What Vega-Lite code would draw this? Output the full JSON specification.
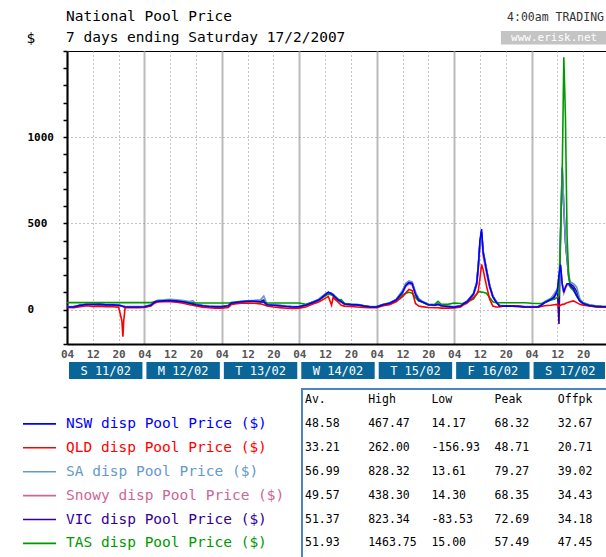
{
  "$schema": "https://vega.github.io/schema/vega-lite/v6.json",
  "background": "white",
  "padding": {"left": 22, "top": 8, "right": 0, "bottom": 0},
  "spacing": 8,
  "config": {
    "font": "DejaVu Sans Mono",
    "view": {"stroke": null}
  },
  "datasets": {
    "prices": [
      {"t": "2007-02-11T04:00", "N": 15, "Q": 12, "S": 18, "W": 15, "V": 16, "T": 40},
      {"t": "2007-02-11T06:00", "N": 15, "Q": 10, "S": 18, "W": 15, "V": 16, "T": 40},
      {"t": "2007-02-11T08:00", "N": 24, "Q": 16, "S": 26, "W": 23, "V": 25, "T": 40},
      {"t": "2007-02-11T10:00", "N": 29, "Q": 22, "S": 31, "W": 28, "V": 30, "T": 40},
      {"t": "2007-02-11T12:00", "N": 29, "Q": 18, "S": 31, "W": 28, "V": 30, "T": 40},
      {"t": "2007-02-11T14:00", "N": 30, "Q": 20, "S": 32, "W": 29, "V": 31, "T": 40},
      {"t": "2007-02-11T16:00", "N": 27, "Q": 16, "S": 29, "W": 26, "V": 28, "T": 40},
      {"t": "2007-02-11T18:00", "N": 27, "Q": 16, "S": 29, "W": 26, "V": 28, "T": 40},
      {"t": "2007-02-11T20:00", "N": 25, "Q": 14, "S": 27, "W": 24, "V": 26, "T": 40},
      {"t": "2007-02-11T21:00", "N": 20, "Q": -65, "S": 22, "W": 19, "V": 21, "T": 40},
      {"t": "2007-02-11T21:20", "N": 18, "Q": -157, "S": 20, "W": 17, "V": 19, "T": 40},
      {"t": "2007-02-11T21:35", "N": 17, "Q": -65, "S": 19, "W": 16, "V": 18, "T": 40},
      {"t": "2007-02-11T22:00", "N": 16, "Q": 10, "S": 18, "W": 15, "V": 17, "T": 40},
      {"t": "2007-02-12T00:00", "N": 15, "Q": 10, "S": 17, "W": 15, "V": 16, "T": 40},
      {"t": "2007-02-12T02:00", "N": 15, "Q": 10, "S": 17, "W": 15, "V": 16, "T": 40},
      {"t": "2007-02-12T04:00", "N": 16, "Q": 12, "S": 18, "W": 15, "V": 17, "T": 40},
      {"t": "2007-02-12T06:00", "N": 25, "Q": 20, "S": 28, "W": 24, "V": 26, "T": 40},
      {"t": "2007-02-12T07:00", "N": 42, "Q": 35, "S": 45, "W": 40, "V": 43, "T": 44},
      {"t": "2007-02-12T08:00", "N": 48, "Q": 44, "S": 54, "W": 46, "V": 50, "T": 48},
      {"t": "2007-02-12T10:00", "N": 50, "Q": 47, "S": 56, "W": 48, "V": 52, "T": 50},
      {"t": "2007-02-12T12:00", "N": 52, "Q": 46, "S": 60, "W": 50, "V": 55, "T": 52},
      {"t": "2007-02-12T14:00", "N": 49, "Q": 42, "S": 56, "W": 47, "V": 52, "T": 48},
      {"t": "2007-02-12T16:00", "N": 45, "Q": 36, "S": 52, "W": 43, "V": 48, "T": 45},
      {"t": "2007-02-12T18:00", "N": 36, "Q": 28, "S": 46, "W": 35, "V": 40, "T": 40},
      {"t": "2007-02-12T19:00", "N": 32, "Q": 25, "S": 52, "W": 31, "V": 40, "T": 38},
      {"t": "2007-02-12T20:00", "N": 28, "Q": 20, "S": 32, "W": 27, "V": 30, "T": 38},
      {"t": "2007-02-12T22:00", "N": 22, "Q": 14, "S": 25, "W": 21, "V": 23, "T": 38},
      {"t": "2007-02-13T00:00", "N": 18, "Q": 10, "S": 21, "W": 17, "V": 19, "T": 38},
      {"t": "2007-02-13T02:00", "N": 16, "Q": 8, "S": 19, "W": 15, "V": 17, "T": 38},
      {"t": "2007-02-13T04:00", "N": 16, "Q": 8, "S": 18, "W": 15, "V": 17, "T": 38},
      {"t": "2007-02-13T06:00", "N": 22, "Q": 12, "S": 25, "W": 21, "V": 23, "T": 38},
      {"t": "2007-02-13T07:00", "N": 38, "Q": 30, "S": 41, "W": 36, "V": 39, "T": 40},
      {"t": "2007-02-13T08:00", "N": 40, "Q": 33, "S": 43, "W": 38, "V": 41, "T": 42},
      {"t": "2007-02-13T10:00", "N": 45, "Q": 36, "S": 48, "W": 43, "V": 46, "T": 45},
      {"t": "2007-02-13T12:00", "N": 48, "Q": 38, "S": 51, "W": 46, "V": 49, "T": 48},
      {"t": "2007-02-13T14:00", "N": 48, "Q": 36, "S": 53, "W": 46, "V": 50, "T": 48},
      {"t": "2007-02-13T16:00", "N": 45, "Q": 33, "S": 56, "W": 43, "V": 48, "T": 45},
      {"t": "2007-02-13T17:00", "N": 44, "Q": 28, "S": 78, "W": 42, "V": 55, "T": 44},
      {"t": "2007-02-13T18:00", "N": 28, "Q": 20, "S": 31, "W": 27, "V": 29, "T": 38},
      {"t": "2007-02-13T20:00", "N": 25, "Q": 15, "S": 28, "W": 24, "V": 26, "T": 38},
      {"t": "2007-02-13T22:00", "N": 22, "Q": 11, "S": 25, "W": 21, "V": 23, "T": 38},
      {"t": "2007-02-14T00:00", "N": 18, "Q": 7, "S": 21, "W": 17, "V": 19, "T": 38},
      {"t": "2007-02-14T02:00", "N": 15, "Q": 6, "S": 18, "W": 15, "V": 16, "T": 38},
      {"t": "2007-02-14T04:00", "N": 17, "Q": 8, "S": 19, "W": 16, "V": 18, "T": 38},
      {"t": "2007-02-14T06:00", "N": 25, "Q": 15, "S": 28, "W": 24, "V": 26, "T": 30},
      {"t": "2007-02-14T08:00", "N": 40, "Q": 30, "S": 44, "W": 38, "V": 42, "T": 40},
      {"t": "2007-02-14T10:00", "N": 55, "Q": 44, "S": 60, "W": 52, "V": 57, "T": 55},
      {"t": "2007-02-14T12:00", "N": 85, "Q": 65, "S": 90, "W": 80, "V": 87, "T": 80},
      {"t": "2007-02-14T13:00", "N": 100, "Q": 76, "S": 98, "W": 94, "V": 99, "T": 90},
      {"t": "2007-02-14T14:00", "N": 92, "Q": 25, "S": 94, "W": 87, "V": 93, "T": 85},
      {"t": "2007-02-14T14:30", "N": 85, "Q": 70, "S": 88, "W": 80, "V": 86, "T": 80},
      {"t": "2007-02-14T15:00", "N": 75, "Q": 60, "S": 80, "W": 71, "V": 77, "T": 70},
      {"t": "2007-02-14T16:00", "N": 58, "Q": 44, "S": 62, "W": 55, "V": 60, "T": 55},
      {"t": "2007-02-14T17:00", "N": 45, "Q": 25, "S": 50, "W": 43, "V": 47, "T": 58},
      {"t": "2007-02-14T18:00", "N": 32, "Q": 20, "S": 36, "W": 30, "V": 34, "T": 35},
      {"t": "2007-02-14T20:00", "N": 28, "Q": 18, "S": 31, "W": 27, "V": 29, "T": 30},
      {"t": "2007-02-14T22:00", "N": 27, "Q": 15, "S": 30, "W": 26, "V": 28, "T": 28},
      {"t": "2007-02-15T00:00", "N": 20, "Q": 12, "S": 23, "W": 19, "V": 21, "T": 22},
      {"t": "2007-02-15T02:00", "N": 15, "Q": 10, "S": 17, "W": 14.3, "V": 16, "T": 16},
      {"t": "2007-02-15T04:00", "N": 15, "Q": 10, "S": 17, "W": 15, "V": 16, "T": 17},
      {"t": "2007-02-15T06:00", "N": 28, "Q": 22, "S": 31, "W": 27, "V": 29, "T": 28},
      {"t": "2007-02-15T08:00", "N": 36, "Q": 28, "S": 39, "W": 34, "V": 37, "T": 35},
      {"t": "2007-02-15T10:00", "N": 55, "Q": 45, "S": 59, "W": 52, "V": 57, "T": 50},
      {"t": "2007-02-15T12:00", "N": 100, "Q": 75, "S": 110, "W": 95, "V": 105, "T": 85},
      {"t": "2007-02-15T13:00", "N": 140, "Q": 95, "S": 152, "W": 133, "V": 146, "T": 95},
      {"t": "2007-02-15T14:00", "N": 156, "Q": 116, "S": 166, "W": 148, "V": 160, "T": 100},
      {"t": "2007-02-15T15:00", "N": 150, "Q": 110, "S": 160, "W": 142, "V": 155, "T": 95},
      {"t": "2007-02-15T16:00", "N": 90, "Q": 35, "S": 102, "W": 86, "V": 96, "T": 70},
      {"t": "2007-02-15T17:00", "N": 55, "Q": 20, "S": 65, "W": 52, "V": 60, "T": 50},
      {"t": "2007-02-15T18:00", "N": 45, "Q": 17, "S": 50, "W": 43, "V": 47, "T": 45},
      {"t": "2007-02-15T20:00", "N": 28, "Q": 12, "S": 31, "W": 27, "V": 29, "T": 28},
      {"t": "2007-02-15T22:00", "N": 25, "Q": 10, "S": 28, "W": 24, "V": 26, "T": 30},
      {"t": "2007-02-15T23:00", "N": 30, "Q": 10, "S": 32, "W": 28, "V": 31, "T": 48},
      {"t": "2007-02-16T00:00", "N": 22, "Q": 8, "S": 24, "W": 21, "V": 23, "T": 30},
      {"t": "2007-02-16T02:00", "N": 18, "Q": 8, "S": 20, "W": 17, "V": 19, "T": 30},
      {"t": "2007-02-16T04:00", "N": 14.2, "Q": 9, "S": 16, "W": 14.3, "V": 15, "T": 38},
      {"t": "2007-02-16T06:00", "N": 20, "Q": 15, "S": 22, "W": 19, "V": 21, "T": 35},
      {"t": "2007-02-16T07:00", "N": 35, "Q": 28, "S": 38, "W": 33, "V": 36, "T": 35},
      {"t": "2007-02-16T08:00", "N": 45, "Q": 38, "S": 50, "W": 43, "V": 47, "T": 45},
      {"t": "2007-02-16T10:00", "N": 90, "Q": 70, "S": 95, "W": 85, "V": 92, "T": 60},
      {"t": "2007-02-16T11:00", "N": 150, "Q": 90, "S": 160, "W": 142, "V": 155, "T": 90},
      {"t": "2007-02-16T11:30", "N": 250, "Q": 110, "S": 260, "W": 235, "V": 255, "T": 100},
      {"t": "2007-02-16T12:00", "N": 400, "Q": 180, "S": 380, "W": 375, "V": 390, "T": 105},
      {"t": "2007-02-16T12:30", "N": 467, "Q": 262, "S": 440, "W": 438, "V": 450, "T": 100},
      {"t": "2007-02-16T13:00", "N": 330, "Q": 230, "S": 340, "W": 310, "V": 335, "T": 100},
      {"t": "2007-02-16T14:00", "N": 230, "Q": 140, "S": 240, "W": 215, "V": 235, "T": 95},
      {"t": "2007-02-16T15:00", "N": 135, "Q": 60, "S": 145, "W": 127, "V": 140, "T": 70},
      {"t": "2007-02-16T16:00", "N": 75, "Q": 20, "S": 80, "W": 70, "V": 77, "T": 45},
      {"t": "2007-02-16T17:00", "N": 45, "Q": 15, "S": 48, "W": 42, "V": 46, "T": 39},
      {"t": "2007-02-16T18:00", "N": 22, "Q": 15, "S": 25, "W": 21, "V": 23, "T": 39},
      {"t": "2007-02-16T20:00", "N": 20, "Q": 22, "S": 22, "W": 19, "V": 21, "T": 39},
      {"t": "2007-02-16T22:00", "N": 20, "Q": 22, "S": 22, "W": 19, "V": 21, "T": 39},
      {"t": "2007-02-17T00:00", "N": 18, "Q": 20, "S": 20, "W": 17, "V": 19, "T": 39},
      {"t": "2007-02-17T02:00", "N": 15, "Q": 15, "S": 18, "W": 15, "V": 16, "T": 39},
      {"t": "2007-02-17T04:00", "N": 15, "Q": 13, "S": 17, "W": 15, "V": 16, "T": 36},
      {"t": "2007-02-17T06:00", "N": 15, "Q": 14, "S": 18, "W": 15, "V": 16, "T": 35},
      {"t": "2007-02-17T07:00", "N": 25, "Q": 18, "S": 28, "W": 24, "V": 26, "T": 35},
      {"t": "2007-02-17T08:00", "N": 40, "Q": 22, "S": 45, "W": 38, "V": 42, "T": 40},
      {"t": "2007-02-17T10:00", "N": 60, "Q": 25, "S": 65, "W": 57, "V": 62, "T": 55},
      {"t": "2007-02-17T11:00", "N": 70, "Q": 28, "S": 90, "W": 66, "V": 80, "T": 60},
      {"t": "2007-02-17T12:00", "N": 110, "Q": 30, "S": 120, "W": 104, "V": 115, "T": 70},
      {"t": "2007-02-17T12:30", "N": 200, "Q": 20, "S": 150, "W": 190, "V": -83.5, "T": 80},
      {"t": "2007-02-17T13:00", "N": 260, "Q": 25, "S": 450, "W": 245, "V": 440, "T": 460},
      {"t": "2007-02-17T13:30", "N": 150, "Q": 30, "S": 828, "W": 142, "V": 823, "T": 780},
      {"t": "2007-02-17T14:00", "N": 100, "Q": 30, "S": 600, "W": 95, "V": 590, "T": 1464},
      {"t": "2007-02-17T14:30", "N": 130, "Q": 35, "S": 400, "W": 123, "V": 390, "T": 1120},
      {"t": "2007-02-17T15:00", "N": 150, "Q": 40, "S": 300, "W": 142, "V": 290, "T": 430},
      {"t": "2007-02-17T15:30", "N": 150, "Q": 42, "S": 200, "W": 142, "V": 190, "T": 200},
      {"t": "2007-02-17T16:00", "N": 140, "Q": 45, "S": 160, "W": 133, "V": 150, "T": 130},
      {"t": "2007-02-17T17:00", "N": 120, "Q": 50, "S": 150, "W": 114, "V": 135, "T": 110},
      {"t": "2007-02-17T18:00", "N": 80, "Q": 40, "S": 130, "W": 76, "V": 105, "T": 80},
      {"t": "2007-02-17T19:00", "N": 50, "Q": 30, "S": 60, "W": 47, "V": 55, "T": 50},
      {"t": "2007-02-17T20:00", "N": 35, "Q": 25, "S": 40, "W": 33, "V": 38, "T": 35},
      {"t": "2007-02-17T22:00", "N": 22, "Q": 20, "S": 28, "W": 21, "V": 25, "T": 25},
      {"t": "2007-02-18T00:00", "N": 18, "Q": 15, "S": 22, "W": 17, "V": 20, "T": 20},
      {"t": "2007-02-18T02:00", "N": 16, "Q": 14, "S": 18, "W": 15, "V": 17, "T": 18},
      {"t": "2007-02-18T03:20", "N": 15, "Q": 14, "S": 17, "W": 15, "V": 16, "T": 17}
    ],
    "days": [
      {"d": "S 11/02", "s": "2007-02-11T04:00", "e": "2007-02-12T04:00", "m": "2007-02-11T16:00"},
      {"d": "M 12/02", "s": "2007-02-12T04:00", "e": "2007-02-13T04:00", "m": "2007-02-12T16:00"},
      {"d": "T 13/02", "s": "2007-02-13T04:00", "e": "2007-02-14T04:00", "m": "2007-02-13T16:00"},
      {"d": "W 14/02", "s": "2007-02-14T04:00", "e": "2007-02-15T04:00", "m": "2007-02-14T16:00"},
      {"d": "T 15/02", "s": "2007-02-15T04:00", "e": "2007-02-16T04:00", "m": "2007-02-15T16:00"},
      {"d": "F 16/02", "s": "2007-02-16T04:00", "e": "2007-02-17T04:00", "m": "2007-02-16T16:00"},
      {"d": "S 17/02", "s": "2007-02-17T04:00", "e": "2007-02-18T04:00", "m": "2007-02-17T16:00"}
    ],
    "legend": [
      {"key": "N", "label": "NSW disp Pool Price ($)"},
      {"key": "Q", "label": "QLD disp Pool Price ($)"},
      {"key": "S", "label": "SA disp Pool Price ($)"},
      {"key": "W", "label": "Snowy disp Pool Price ($)"},
      {"key": "V", "label": "VIC disp Pool Price ($)"},
      {"key": "T", "label": "TAS disp Pool Price ($)"}
    ],
    "table": [
      {"row": "H", "Av": "Av.", "High": "High", "Low": "Low", "Peak": "Peak", "Offpk": "Offpk"},
      {"row": "N", "Av": "48.58", "High": "467.47", "Low": "14.17", "Peak": "68.32", "Offpk": "32.67"},
      {"row": "Q", "Av": "33.21", "High": "262.00", "Low": "-156.93", "Peak": "48.71", "Offpk": "20.71"},
      {"row": "S", "Av": "56.99", "High": "828.32", "Low": "13.61", "Peak": "79.27", "Offpk": "39.02"},
      {"row": "W", "Av": "49.57", "High": "438.30", "Low": "14.30", "Peak": "68.35", "Offpk": "34.43"},
      {"row": "V", "Av": "51.37", "High": "823.34", "Low": "-83.53", "Peak": "72.69", "Offpk": "34.18"},
      {"row": "T", "Av": "51.93", "High": "1463.75", "Low": "15.00", "Peak": "57.49", "Offpk": "47.45"}
    ]
  },
  "vconcat": [
    {
      "width": 540,
      "height": 293,
      "view": {"stroke": "#000000", "strokeWidth": 1},
      "layer": [
        {
          "data": {"name": "prices"},
          "transform": [{"fold": ["V", "W", "S", "T", "Q", "N"], "as": ["key", "price"]}],
          "mark": {"type": "line", "strokeWidth": 1.6, "invalid": "filter"},
          "encoding": {
            "x": {
              "field": "t", "type": "temporal",
              "scale": {
                "domain": [
                  {"year": 2007, "month": 2, "date": 11, "hours": 4},
                  {"year": 2007, "month": 2, "date": 18, "hours": 3, "minutes": 23}
                ],
                "clamp": true
              },
              "axis": {
                "title": null,
                "tickCount": 100,
                "values": [
                  {"year": 2007, "month": 2, "date": 11, "hours": 4}, {"year": 2007, "month": 2, "date": 11, "hours": 12}, {"year": 2007, "month": 2, "date": 11, "hours": 20},
                  {"year": 2007, "month": 2, "date": 12, "hours": 4}, {"year": 2007, "month": 2, "date": 12, "hours": 12}, {"year": 2007, "month": 2, "date": 12, "hours": 20},
                  {"year": 2007, "month": 2, "date": 13, "hours": 4}, {"year": 2007, "month": 2, "date": 13, "hours": 12}, {"year": 2007, "month": 2, "date": 13, "hours": 20},
                  {"year": 2007, "month": 2, "date": 14, "hours": 4}, {"year": 2007, "month": 2, "date": 14, "hours": 12}, {"year": 2007, "month": 2, "date": 14, "hours": 20},
                  {"year": 2007, "month": 2, "date": 15, "hours": 4}, {"year": 2007, "month": 2, "date": 15, "hours": 12}, {"year": 2007, "month": 2, "date": 15, "hours": 20},
                  {"year": 2007, "month": 2, "date": 16, "hours": 4}, {"year": 2007, "month": 2, "date": 16, "hours": 12}, {"year": 2007, "month": 2, "date": 16, "hours": 20},
                  {"year": 2007, "month": 2, "date": 17, "hours": 4}, {"year": 2007, "month": 2, "date": 17, "hours": 12}, {"year": 2007, "month": 2, "date": 17, "hours": 20}
                ],
                "format": "%H",
                "formatType": "time",
                "labelFont": "DejaVu Sans Mono",
                "labelFontSize": 11,
                "labelFontWeight": "bold",
                "labelColor": "#555555",
                "labelPadding": 4,
                "labelOverlap": false,
                "labelFlush": false,
                "ticks": false,
                "domainColor": "#000000",
                "domainWidth": 2,
                "grid": true,
                "gridColor": {"condition": {"test": "hours(datum.value) === 4", "value": "#bbbbbb"}, "value": "#888888"},
                "gridDash": {"condition": {"test": "hours(datum.value) === 4", "value": []}, "value": [1, 3]},
                "gridWidth": {"condition": {"test": "hours(datum.value) === 4", "value": 2}, "value": 1}
              }
            },
            "y": {
              "field": "price", "type": "quantitative",
              "scale": {"domain": [-200, 1500], "nice": false, "zero": false},
              "axis": {
                "title": "$",
                "titleAngle": 0,
                "titleX": -41,
                "titleY": -13,
                "titleAlign": "left",
                "titleBaseline": "middle",
                "titleFont": "DejaVu Sans Mono",
                "titleFontSize": 14.5,
                "titleFontWeight": "normal",
                "titleColor": "#000000",
                "tickCount": 100,
                "values": [-200, -100, 0, 100, 200, 300, 400, 500, 600, 700, 800, 900, 1000, 1100, 1200, 1300, 1400, 1500],
                "format": "d",
                "labelExpr": "(datum.value % 500 === 0 && datum.value >= 0 && datum.value < 1500) ? datum.label : ''",
                "labelAlign": "left",
                "labelBaseline": "middle",
                "labelPadding": 36,
                "labelFont": "DejaVu Sans Mono",
                "labelFontSize": 11,
                "labelFontWeight": "bold",
                "labelColor": "#000000",
                "labelOverlap": false,
                "labelFlush": false,
                "tickSize": 4,
                "tickColor": "#000000",
                "tickWidth": 1.5,
                "domainColor": "#000000",
                "domainWidth": 2,
                "grid": true,
                "gridColor": "#888888",
                "gridDash": [1, 3],
                "gridOpacity": {"condition": {"test": "datum.value % 500 === 0 && datum.value < 1500", "value": 1}, "value": 0}
              }
            },
            "color": {
              "field": "key", "type": "nominal",
              "scale": {"domain": ["N", "Q", "S", "W", "V", "T"], "range": ["#0000ff", "#ff0000", "#6699cc", "#cc6699", "#330099", "#009900"]},
              "legend": null
            }
          }
        },
        {
          "data": {"name": "days"},
          "mark": {"type": "rect", "color": "#0a6699", "xOffset": 2, "x2Offset": -2},
          "encoding": {
            "x": {"field": "s", "type": "temporal"},
            "x2": {"field": "e"},
            "y": {"datum": -305, "type": "quantitative"},
            "y2": {"datum": -403}
          }
        },
        {
          "data": {"name": "days"},
          "mark": {"type": "text", "color": "#ffffff", "font": "DejaVu Sans Mono", "fontSize": 12, "baseline": "middle", "align": "center"},
          "encoding": {
            "x": {"field": "m", "type": "temporal"},
            "y": {"datum": -354, "type": "quantitative"},
            "text": {"field": "d"}
          }
        },
        {
          "data": {"values": [{}]},
          "mark": {"type": "text", "text": "National Pool Price", "align": "left", "baseline": "middle", "font": "DejaVu Sans Mono", "fontSize": 14.5, "color": "#000000", "dx": -1, "dy": -34},
          "encoding": {
            "x": {"datum": {"year": 2007, "month": 2, "date": 11, "hours": 4}, "type": "temporal"},
            "y": {"datum": 1500, "type": "quantitative"}
          }
        },
        {
          "data": {"values": [{}]},
          "mark": {"type": "text", "text": "7 days ending Saturday 17/2/2007", "align": "left", "baseline": "middle", "font": "DejaVu Sans Mono", "fontSize": 14.5, "color": "#000000", "dx": -1, "dy": -13},
          "encoding": {
            "x": {"datum": {"year": 2007, "month": 2, "date": 11, "hours": 4}, "type": "temporal"},
            "y": {"datum": 1500, "type": "quantitative"}
          }
        },
        {
          "data": {"values": [{}]},
          "mark": {"type": "text", "text": "4:00am TRADING", "align": "right", "baseline": "middle", "font": "DejaVu Sans Mono", "fontSize": 11.5, "color": "#333333", "dx": -3, "dy": -33},
          "encoding": {
            "x": {"datum": {"year": 2007, "month": 2, "date": 18, "hours": 3, "minutes": 23}, "type": "temporal"},
            "y": {"datum": 1500, "type": "quantitative"}
          }
        },
        {
          "data": {"values": [{}]},
          "mark": {"type": "rect", "color": "#c4c4c4"},
          "encoding": {
            "x": {"datum": {"year": 2007, "month": 2, "date": 16, "hours": 18, "minutes": 30}, "type": "temporal"},
            "x2": {"datum": {"year": 2007, "month": 2, "date": 18, "hours": 3, "minutes": 23}},
            "y": {"datum": 1538, "type": "quantitative"},
            "y2": {"datum": 1616}
          }
        },
        {
          "data": {"values": [{}]},
          "mark": {"type": "text", "text": "www.erisk.net", "align": "center", "baseline": "middle", "font": "DejaVu Sans Mono", "fontSize": 11, "color": "#ffffff"},
          "encoding": {
            "x": {"datum": {"year": 2007, "month": 2, "date": 17, "hours": 11}, "type": "temporal"},
            "y": {"datum": 1577, "type": "quantitative"}
          }
        }
      ]
    },
    {
      "spacing": 0,
      "hconcat": [
        {
          "width": 234,
          "height": 170,
          "data": {"name": "legend"},
          "layer": [
            {
              "mark": {"type": "rule", "strokeWidth": 1.6},
              "encoding": {
                "y": {"field": "key", "type": "ordinal", "scale": {"type": "point", "domain": ["H", "N", "Q", "S", "W", "V", "T"], "padding": 0.556, "align": 0.4135}, "axis": null},
                "x": {"datum": -0.188, "type": "quantitative", "scale": {"domain": [0, 1]}, "axis": null},
                "x2": {"datum": -0.047},
                "color": {
                  "field": "key", "type": "nominal",
                  "scale": {"domain": ["N", "Q", "S", "W", "V", "T"], "range": ["#0000ff", "#ff0000", "#6699cc", "#cc6699", "#330099", "#009900"]},
                  "legend": null
                }
              }
            },
            {
              "mark": {"type": "text", "align": "left", "baseline": "middle", "font": "DejaVu Sans Mono", "fontSize": 14.5},
              "encoding": {
                "y": {"field": "key", "type": "ordinal", "scale": {"type": "point", "domain": ["H", "N", "Q", "S", "W", "V", "T"], "padding": 0.556, "align": 0.4135}, "axis": null},
                "x": {"datum": -0.004, "type": "quantitative", "scale": {"domain": [0, 1]}, "axis": null},
                "text": {"field": "label"},
                "color": {
                  "field": "key", "type": "nominal",
                  "scale": {"domain": ["N", "Q", "S", "W", "V", "T"], "range": ["#0000ff", "#ff0000", "#6699cc", "#cc6699", "#330099", "#009900"]},
                  "legend": null
                }
              }
            }
          ]
        },
        {
          "width": 307,
          "height": 170,
          "view": {"stroke": "#4a86c0", "strokeWidth": 2},
          "data": {"name": "table"},
          "transform": [{"fold": ["Av", "High", "Low", "Peak", "Offpk"], "as": ["col", "val"]}],
          "mark": {"type": "text", "align": "left", "baseline": "middle", "font": "DejaVu Sans Mono", "fontSize": 11.5, "color": "#000000"},
          "encoding": {
            "x": {"field": "col", "type": "ordinal", "scale": {"type": "point", "domain": ["Av", "High", "Low", "Peak", "Offpk"], "padding": 0.4286, "align": 0.055}, "axis": null},
            "y": {"field": "row", "type": "ordinal", "scale": {"type": "point", "domain": ["H", "N", "Q", "S", "W", "V", "T"], "padding": 0.556, "align": 0.4135}, "axis": null},
            "text": {"field": "val"}
          }
        }
      ]
    }
  ]
}
